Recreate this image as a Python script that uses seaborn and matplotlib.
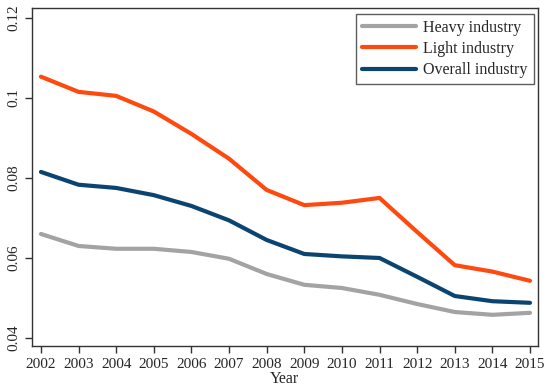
import matplotlib
matplotlib.use("Agg")
import matplotlib.pyplot as plt
import pandas as pd
import seaborn as sns

YEARS = list(range(2002, 2016))
HEAVY = [0.0660, 0.0630, 0.0623, 0.0623, 0.0615, 0.0598, 0.0560,
         0.0533, 0.0525, 0.0508, 0.0485, 0.0465, 0.0458, 0.0463]
LIGHT = [0.1053, 0.1015, 0.1005, 0.0966, 0.0910, 0.0848, 0.0770,
         0.0732, 0.0738, 0.0750, 0.0665, 0.0582, 0.0566, 0.0543]
OVERALL = [0.0815, 0.0783, 0.0775, 0.0757, 0.0730, 0.0694, 0.0645,
           0.0610, 0.0604, 0.0600, 0.0553, 0.0505, 0.0492, 0.0488]
SERIES = ["Heavy industry", "Light industry", "Overall industry"]
COLORS = ["#a3a3a3", "#ff4a0f", "#0b4470"]


def main() -> None:
    sns.set_theme(style="ticks")
    plt.rcParams["font.family"] = ["Liberation Serif", "DejaVu Serif"]

    df = pd.DataFrame({"Year": YEARS * 3,
                       "value": HEAVY + LIGHT + OVERALL,
                       "series": [s for s in SERIES for _ in YEARS]})

    fig, ax = plt.subplots(figsize=(5.5, 3.91), dpi=100)
    sns.lineplot(data=df, x="Year", y="value", hue="series",
                 palette=dict(zip(SERIES, COLORS)), linewidth=3, ax=ax)

    ax.set_xlim(2001.76, 2015.21)
    ax.set_ylim(0.038, 0.1225)
    ax.set_xticks(YEARS)
    ax.set_yticks([0.04, 0.06, 0.08, 0.1, 0.12])
    ax.set_yticklabels(["0.04", "0.06", "0.08", "0.1", "0.12"],
                       rotation=90, va="center")
    ax.tick_params(labelsize=11, length=5, color="#333333", width=1)
    ax.set_xlabel("Year", fontsize=11.5, labelpad=0)
    ax.set_ylabel("")
    for sp in ax.spines.values():
        sp.set_color("#333333")
        sp.set_linewidth(1)

    leg = ax.legend(loc="upper right", fontsize=11.5, frameon=True, fancybox=False,
                    handlelength=3.4, handletextpad=0.45, borderpad=0.38,
                    labelspacing=0.32, borderaxespad=0,
                    bbox_to_anchor=(0.992, 0.982))
    leg.get_frame().set_edgecolor("#333333")
    leg.get_frame().set_linewidth(1)

    fig.subplots_adjust(left=0.058, right=0.978, top=0.98, bottom=0.115)
    fig.savefig("out.png", dpi=100)
    plt.close(fig)


if __name__ == "__main__":
    main()
